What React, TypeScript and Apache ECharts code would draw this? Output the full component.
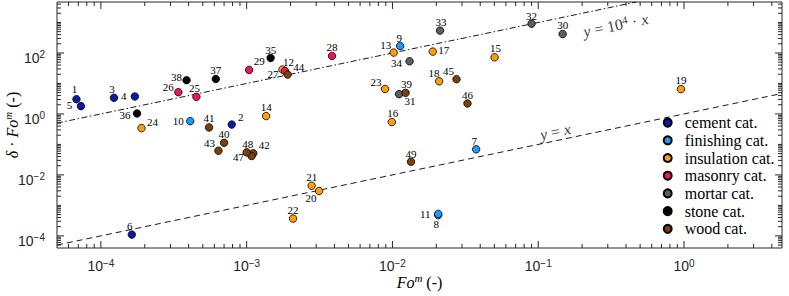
import React, { useEffect, useRef } from 'react';
import * as echarts from 'echarts';

// ---- axis limits and tick labels ----
const X_MIN = 5e-5;
const X_MAX = 4.7;
const Y_MIN = 4e-5;
const Y_MAX = 4.7e3;
const X_LABEL_EXPONENTS = [-4, -3, -2, -1, 0];
const Y_LABEL_EXPONENTS = [-4, -2, 0, 2];
const MINOR_MULTIPLIERS = [2, 3, 4, 5, 6, 7, 8, 9];

// ---- categories ----
const CATEGORY_NAMES = [
  'cement cat.',
  'finishing cat.',
  'insulation cat.',
  'masonry cat.',
  'mortar cat.',
  'stone cat.',
  'wood cat.',
];

// ---- data: [id, Fo^m, delta*Fo^m] ----
const cement: number[][] = [
  [1, 6.8e-5, 3.05],
  [2, 7.9e-4, 0.45],
  [3, 1.23e-4, 3.4],
  [4, 1.71e-4, 3.75],
  [5, 7.3e-5, 1.8],
  [6, 1.63e-4, 1.1e-4],
];
const finishing: number[][] = [
  [7, 0.0375, 0.069],
  [8, 0.0206, 4.8e-4],
  [9, 0.0113, 169],
  [10, 4.1e-4, 0.58],
  [11, 0.0206, 5.25e-4],
];
const insulation: number[][] = [
  [12, 1.76e-3, 28.6],
  [13, 0.0102, 103],
  [14, 1.36e-3, 0.85],
  [15, 0.0502, 72],
  [16, 9.9e-3, 0.54],
  [17, 0.0189, 111],
  [18, 0.0209, 11.8],
  [19, 0.953, 6.5],
  [20, 3.14e-3, 2.97e-3],
  [21, 2.79e-3, 4.43e-3],
  [22, 2.08e-3, 3.7e-4],
  [23, 8.9e-3, 6.6],
  [24, 1.9e-4, 0.343],
];
const masonry: number[][] = [
  [25, 4.52e-4, 3.63],
  [26, 3.4e-4, 5.17],
  [27, 1.83e-3, 25.7],
  [28, 3.85e-3, 80],
  [29, 1.04e-3, 27.8],
];
const mortar: number[][] = [
  [30, 0.147, 419],
  [31, 0.0111, 4.45],
  [32, 0.09, 917],
  [33, 0.0212, 541],
  [34, 0.0131, 53.5],
];
const stone: number[][] = [
  [35, 1.46e-3, 68.6],
  [36, 1.77e-4, 1.04],
  [37, 6.14e-4, 14.1],
  [38, 3.87e-4, 12.8],
];
const wood: number[][] = [
  [39, 0.0123, 4.91],
  [40, 7.0e-4, 0.113],
  [41, 5.52e-4, 0.361],
  [42, 1.11e-3, 0.051],
  [43, 6.4e-4, 0.062],
  [44, 1.91e-3, 19.6],
  [45, 0.0275, 13.8],
  [46, 0.0327, 2.21],
  [47, 1.08e-3, 0.0416],
  [48, 1.0e-3, 0.0549],
  [49, 0.0134, 0.027],
];
const CATEGORY_DATA = [cement, finishing, insulation, masonry, mortar, stone, wood];

// reference lines: y = factor * x
const LINE_FACTORS = [1, 1e4];

// ---- styles (not data) ----
const CATEGORY_COLORS = ['#0c1aa6', '#1a9bff', '#ff9f0a', '#f2125f', '#5f5f5f', '#000000', '#7b4206'];
const FONT_SERIF = '"Liberation Serif", "DejaVu Serif", serif';
const FONT_SANS = '"Liberation Sans", Arial, sans-serif';
const AXIS_COLOR = '#262626';

// label offsets (px) of the point numbers relative to the marker centre
const LABEL_OFFSET: Record<number, [number, number]> = {
  1: [-2, -10], 2: [9, -8], 3: [-2, -9], 4: [-11, 0], 5: [-11.5, -1], 6: [-2, -9],
  7: [-2, -8], 8: [-2, 9], 9: [-1, -8], 10: [-12, 0], 11: [-13, 0],
  12: [6, -8], 13: [-8, -8], 14: [0, -9], 15: [1, -9], 16: [1, -9], 17: [11, -2],
  18: [-5, -8], 19: [0, -9], 20: [-8, 7], 21: [0, -9], 22: [0, -9], 23: [-9, -7], 24: [11, -6],
  25: [-2, -9], 26: [-10, -5], 27: [-12, 3], 28: [0, -9], 29: [10, -9],
  30: [0, -9], 31: [11, 7], 32: [0, -8], 33: [1, -9], 34: [-13, 2],
  35: [0, -8], 36: [-12, 2], 37: [0, -9], 38: [-10, -3],
  39: [1, -9], 40: [0, -9], 41: [0, -9], 42: [11, -8], 43: [-9, -8], 44: [11, -8],
  45: [-8, -8], 46: [0, -8], 47: [-13, 1], 48: [1, -8], 49: [0, -8],
};

function logTicks(min: number, max: number, majorExps: number[]) {
  const out: { v: number; major: boolean }[] = [];
  for (let e = Math.floor(Math.log10(min)); e <= Math.ceil(Math.log10(max)); e++) {
    for (const m of [1, ...MINOR_MULTIPLIERS]) {
      const v = m * Math.pow(10, e);
      if (v > min * 1.0001 && v < max / 1.0001) out.push({ v, major: m === 1 && majorExps.includes(e) });
    }
  }
  return out;
}

function powerLabel(value: number, exps: number[]) {
  const l = Math.log10(value);
  const r = Math.round(l);
  if (Math.abs(l - r) > 1e-6 || !exps.includes(r)) return '';
  const s = r < 0 ? '\u2212' + String(-r) : String(r);
  return '{b|10}{s|' + s + '}';
}

const tickRich = {
  b: { fontFamily: FONT_SANS, fontSize: 14, lineHeight: 16, color: AXIS_COLOR },
  s: { fontFamily: FONT_SANS, fontSize: 10, lineHeight: 6, verticalAlign: 'top', color: AXIS_COLOR },
};

const nameRich = {
  r: { fontFamily: FONT_SERIF, fontSize: 16, lineHeight: 20, color: '#000' },
  i: { fontFamily: FONT_SERIF, fontSize: 16, lineHeight: 20, fontStyle: 'italic', color: '#000' },
  s: { fontFamily: FONT_SERIF, fontSize: 11, lineHeight: 8, fontStyle: 'italic', verticalAlign: 'top', color: '#000' },
};

const annotRich = {
  r: { fontFamily: FONT_SERIF, fontSize: 16, lineHeight: 18, color: '#000' },
  i: { fontFamily: FONT_SERIF, fontSize: 16, lineHeight: 18, fontStyle: 'italic', color: '#000' },
  s: { fontFamily: FONT_SERIF, fontSize: 11, lineHeight: 7, verticalAlign: 'top', color: '#000' },
};

function buildOption() {
  const xTicks = logTicks(X_MIN, X_MAX, X_LABEL_EXPONENTS);
  const yTicks = logTicks(Y_MIN, Y_MAX, Y_LABEL_EXPONENTS);
  const tickStyle = { stroke: AXIS_COLOR, lineWidth: 1 };

  const pointSeries = CATEGORY_DATA.map((pts, ci) => ({
    type: 'scatter',
    name: CATEGORY_NAMES[ci],
    symbol: 'circle',
    symbolSize: 7.5,
    z: 3,
    itemStyle: { color: CATEGORY_COLORS[ci], borderColor: '#000', borderWidth: 0.8, opacity: 1 },
    emphasis: { disabled: true },
    label: {
      show: true,
      position: 'inside',
      formatter: '{b}',
      fontFamily: FONT_SERIF,
      fontSize: 11,
      color: '#000',
    },
    data: pts.map(([id, x, y]) => ({
      name: String(id),
      value: [x, y],
      label: { offset: LABEL_OFFSET[id] || [0, -9] },
    })),
  }));

  const lineSeries = LINE_FACTORS.map((f) => {
    const xEnd = Math.min(X_MAX, Y_MAX / f);
    return {
      type: 'line',
      silent: true,
      symbol: 'none',
      z: 1,
      lineStyle: { color: '#000', width: 0.9, type: f === 1 ? [6, 4] : [6, 2.5, 1.5, 2.5] },
      data: [
        [X_MIN, f * X_MIN],
        [xEnd, f * xEnd],
      ],
    };
  });

  const annotSeries = {
    type: 'scatter',
    silent: true,
    symbolSize: 1,
    itemStyle: { color: 'rgba(0,0,0,0)' },
    z: 4,
    label: {
      show: true,
      position: 'inside',
      rotate: 11.8,
      color: '#000',
      fontFamily: FONT_SERIF,
      fontSize: 16,
      rich: annotRich,
    },
    data: [
      { value: [0.34, 813], label: { formatter: '{i|y}{r| = 10}{s|4}{r| \u00b7 }{i|x}' } },
      { value: [0.131, 0.262], label: { formatter: '{i|y}{r| = }{i|x}' } },
    ],
  };

  const xTickSeries = {
    type: 'custom',
    silent: true,
    clip: false,
    z: 5,
    data: xTicks.map((t) => [t.v, Y_MIN, t.major ? 1 : 0]),
    renderItem: (params: any, api: any) => {
      const v = api.value(0);
      const len = api.value(2) === 1 ? 7 : 4;
      const b = api.coord([v, Y_MIN]);
      const t = api.coord([v, Y_MAX]);
      return {
        type: 'group',
        children: [
          { type: 'line', shape: { x1: b[0], y1: b[1], x2: b[0], y2: b[1] - len }, style: tickStyle },
          { type: 'line', shape: { x1: t[0], y1: t[1], x2: t[0], y2: t[1] + len }, style: tickStyle },
        ],
      };
    },
  };

  const yTickSeries = {
    type: 'custom',
    silent: true,
    clip: false,
    z: 5,
    data: yTicks.map((t) => [X_MIN, t.v, t.major ? 1 : 0]),
    renderItem: (params: any, api: any) => {
      const v = api.value(1);
      const len = api.value(2) === 1 ? 7 : 4;
      const l = api.coord([X_MIN, v]);
      const r = api.coord([X_MAX, v]);
      return {
        type: 'group',
        children: [
          { type: 'line', shape: { x1: l[0], y1: l[1], x2: l[0] + len, y2: l[1] }, style: tickStyle },
          { type: 'line', shape: { x1: r[0], y1: r[1], x2: r[0] - len, y2: r[1] }, style: tickStyle },
        ],
      };
    },
  };

  return {
    animation: false,
    backgroundColor: '#ffffff',
    grid: {
      left: 57,
      right: 7,
      top: 2,
      bottom: 48,
      show: true,
      borderColor: AXIS_COLOR,
      borderWidth: 1,
      backgroundColor: 'rgba(0,0,0,0)',
      outerBoundsMode: 'none',
    },
    xAxis: {
      type: 'log',
      logBase: 10,
      min: X_MIN,
      max: X_MAX,
      axisLine: { show: false },
      axisTick: { show: false },
      splitLine: { show: false },
      minorTick: { show: false },
      axisLabel: {
        margin: 10,
        formatter: (v: number) => powerLabel(v, X_LABEL_EXPONENTS),
        rich: tickRich,
        showMinLabel: false,
        showMaxLabel: false,
      },
      name: '{i|Fo}{s|m}{r| (-)}',
      nameLocation: 'middle',
      nameGap: 24,
      nameMoveOverlap: false,
      nameTextStyle: { rich: nameRich, fontFamily: FONT_SERIF, fontSize: 16, color: '#000' },
    },
    yAxis: {
      type: 'log',
      logBase: 10,
      min: Y_MIN,
      max: Y_MAX,
      axisLine: { show: false },
      axisTick: { show: false },
      splitLine: { show: false },
      minorTick: { show: false },
      axisLabel: {
        margin: 12,
        padding: [10, 0, 0, 0],
        formatter: (v: number) => powerLabel(v, Y_LABEL_EXPONENTS),
        rich: tickRich,
        showMinLabel: false,
        showMaxLabel: false,
      },
      name: '{i|\u03b4}{r| \u00b7 }{i|Fo}{s|m}{r| (-)}',
      nameLocation: 'middle',
      nameGap: 35,
      nameMoveOverlap: false,
      nameTextStyle: { rich: nameRich, fontFamily: FONT_SERIF, fontSize: 16, color: '#000' },
    },
    legend: {
      data: CATEGORY_NAMES,
      orient: 'vertical',
      left: 662.7,
      top: 114.6,
      padding: 0,
      itemWidth: 8,
      itemHeight: 8,
      itemGap: 1.7,
      selectedMode: false,
      textStyle: {
        fontFamily: FONT_SERIF,
        fontSize: 16,
        color: '#000',
        padding: [0, 0, 0, 8],
      },
    },
    series: [...lineSeries, ...pointSeries, annotSeries, xTickSeries, yTickSeries],
  };
}

export default function App() {
  const ref = useRef<HTMLDivElement>(null);
  useEffect(() => {
    if (!ref.current) return;
    const chart = echarts.init(ref.current, null, { renderer: 'svg' });
    chart.setOption(buildOption() as any);
    return () => chart.dispose();
  }, []);
  return (
    <div
      ref={ref}
      style={{ position: 'absolute', left: 0, top: 0, width: 789, height: 296, background: '#fff' }}
    />
  );
}
